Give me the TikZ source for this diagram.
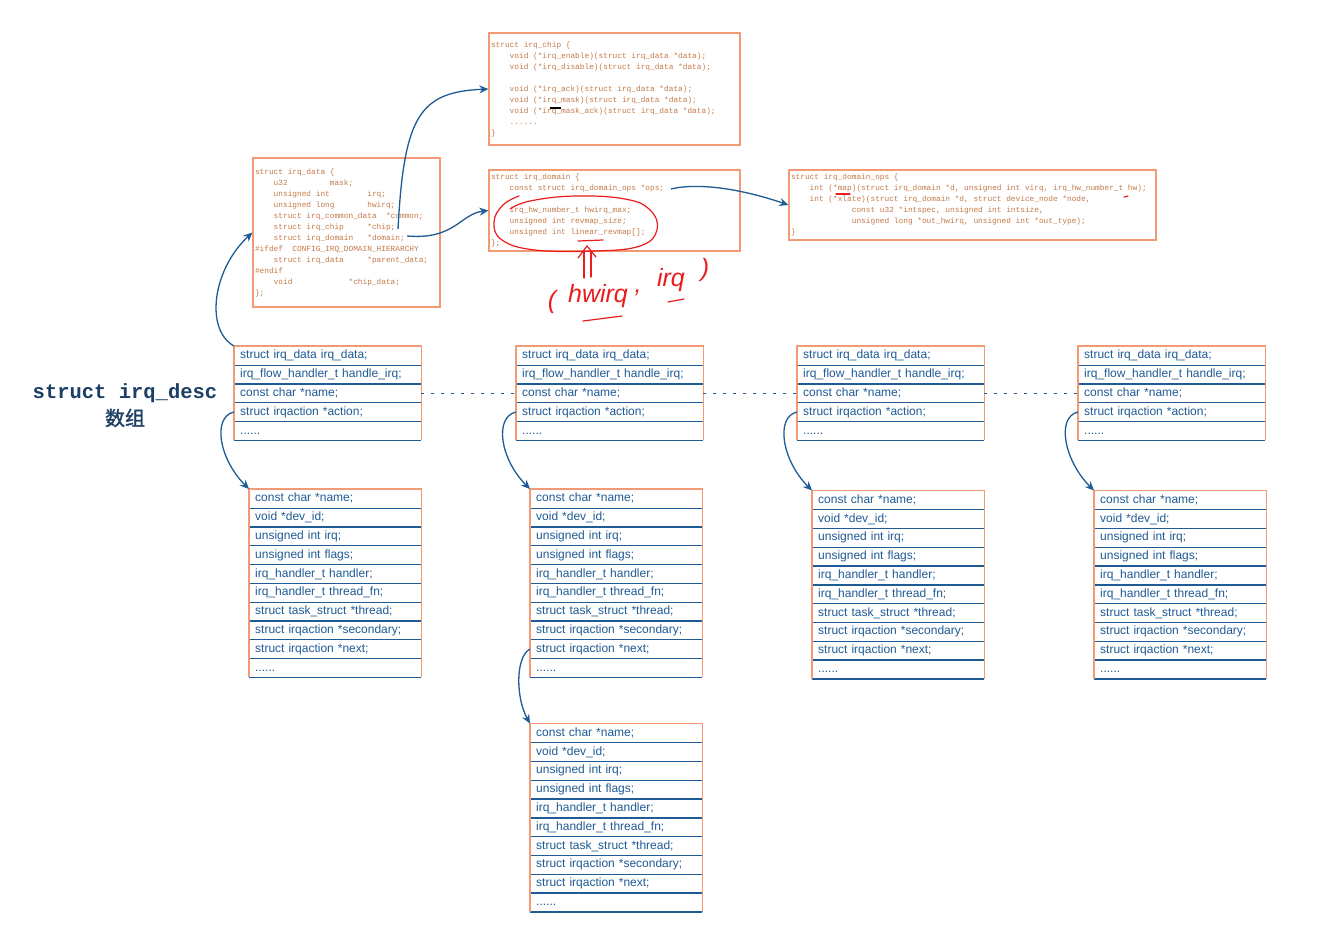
\documentclass[tikz,border=0pt]{standalone}
\usepackage{fontspec}
\setmainfont{Liberation Sans}
\setmonofont{Liberation Mono}
\newfontfamily\cjk[FakeBold=1.5]{Noto Sans CJK SC}
\usepackage{xcolor}
\usetikzlibrary{positioning, calc, arrows.meta}

\definecolor{boxorange}{HTML}{F29A76}
\definecolor{lineblue}{HTML}{1F5B94}
\definecolor{codebrown}{HTML}{C47A48}
\definecolor{titleblue}{HTML}{1D3F66}
\definecolor{inkred}{HTML}{EA1C1C}

\newcommand{\sixdots}{......}
% one monospace cell per ~ in the code boxes
\newcommand{\monospaces}{\def~{\leavevmode\hbox to 4.68pt{\hss}}}

\tikzset{
  descrow/.style={anchor=north west, text width=175pt, inner xsep=6pt, inner ysep=0pt,
    minimum height=18.8pt, text height=9pt, text depth=2.5pt, align=left,
    font=\fontsize{12}{12}\selectfont, text=lineblue},
  actrow/.style={descrow, text width=160pt},
  codebox/.style={draw=boxorange, line width=1.2pt, inner xsep=2pt, inner ysep=0pt, align=left,
    font=\fontsize{7.8}{11}\selectfont\ttfamily\monospaces, text=codebrown},
  sepline/.style={lineblue, line width=1.3pt},
  frameline/.style={boxorange, line width=1.3pt},
  ptr/.style={lineblue, line width=1.3pt, -{Stealth[length=9pt,width=8pt]}},
  dotline/.style={lineblue, line width=1pt, dash pattern=on 3pt off 7pt},
  ink/.style={inkred, line width=1.2pt, line cap=round},
  inktext/.style={text=inkred, inner sep=0pt, font=\itshape\fontsize{25}{25}\selectfont},
  desctitle/.style={text=titleblue, inner sep=0pt},
}

\begin{document}
\begin{tikzpicture}[x=1pt, y=-1pt]
    \useasboundingbox (0,0) rectangle (1319,951);
    \fill[white] (0,0) rectangle (1319,951);

    %title
    \node[desctitle, font=\fontsize{20.5}{20.5}\selectfont\ttfamily\bfseries] (titlea) at (125,393) {struct irq\_desc};
    \node[desctitle, font=\cjk\fontsize{20}{20}\selectfont] (titleb) at (125,418) {数组};

    %irq_desc tables
    \foreach \col/\x/\y in {1/234/346, 2/516/346, 3/797/346, 4/1078/346}
        \foreach \txt [count=\i] in {{struct irq\_data irq\_data;}, {irq\_flow\_handler\_t handle\_irq;},
                {const char *name;}, {struct irqaction *action;}, {\sixdots}}
            \node[descrow] (d\col-\i) at ({\x},{\y+18.8*(\i-1)}) {\txt};

    %irqaction tables
    \foreach \tab/\x/\y in {a1/249/489, a2/530/489, a3/812/490.5, a4/1094/490.5, b2/530/723.5}
        \foreach \txt [count=\i] in {{const char *name;}, {void *dev\_id;}, {unsigned int irq;},
                {unsigned int flags;}, {irq\_handler\_t handler;}, {irq\_handler\_t thread\_fn;},
                {struct task\_struct *thread;}, {struct irqaction *secondary;},
                {struct irqaction *next;}, {\sixdots}}
            \node[actrow] (\tab-\i) at ({\x},{\y+18.8*(\i-1)}) {\txt};

    %frames
    \foreach \n/\k in {d1/5, d2/5, d3/5, d4/5, a1/10, a2/10, a3/10, a4/10, b2/10}{
        \foreach \i in {1,...,\k}
            \draw[sepline] (\n-\i.south west) -- (\n-\i.south east);
        \draw[frameline] (\n-\k.south west) -- (\n-1.north west) -- (\n-1.north east) -- (\n-\k.south east);
    }

    %code boxes
    \node[codebox, text width=247pt, minimum height=112pt] (irqchip) at (614.5,89) {struct~irq\_chip~\{\\
~~~~void~(*irq\_enable)(struct~irq\_data~*data);\\
~~~~void~(*irq\_disable)(struct~irq\_data~*data);\\
\mbox{}\\
~~~~void~(*irq\_ack)(struct~irq\_data~*data);\\
~~~~void~(*irq\_mask)(struct~irq\_data~*data);\\
~~~~void~(*irq\_mask\_ack)(struct~irq\_data~*data);\\
~~~~\sixdots\\
\}};

    \node[codebox, text width=183pt, minimum height=149pt] (irqdata) at (346.5,232.5) {struct~irq\_data~\{\\
~~~~u32~~~~~~~~~mask;\\
~~~~unsigned~int~~~~~~~~irq;\\
~~~~unsigned~long~~~~~~~hwirq;\\
~~~~struct~irq\_common\_data~~*common;\\
~~~~struct~irq\_chip~~~~~*chip;\\
~~~~struct~irq\_domain~~~*domain;\\
\#ifdef~~CONFIG\_IRQ\_DOMAIN\_HIERARCHY\\
~~~~struct~irq\_data~~~~~*parent\_data;\\
\#endif\\
~~~~void~~~~~~~~~~~~*chip\_data;\\
\};};

    \node[codebox, text width=247pt, minimum height=81pt] (irqdomain) at (614.5,210.5) {struct~irq\_domain~\{\\
~~~~const~struct~irq\_domain\_ops~*ops;\\
\mbox{}\\
~~~~irq\_hw\_number\_t~hwirq\_max;\\
~~~~unsigned~int~revmap\_size;\\
~~~~unsigned~int~linear\_revmap[];\\
\};};

    \node[codebox, text width=363pt, minimum height=70pt] (domainops) at (972.5,205) {struct~irq\_domain\_ops~\{\\
~~~~int~(*map)(struct~irq\_domain~*d,~unsigned~int~virq,~irq\_hw\_number\_t~hw);\\
~~~~int~(*xlate)(struct~irq\_domain~*d,~struct~device\_node~*node,\\
~~~~~~~~~~~~~const~u32~*intspec,~unsigned~int~intsize,\\
~~~~~~~~~~~~~unsigned~long~*out\_hwirq,~unsigned~int~*out\_type);\\
\}};

    %pointer ends
    \coordinate (chipptr) at (398,229);
    \coordinate (domainptr) at (407,236);
    \coordinate (opsptr) at (671,189);

    %arrows
    \draw[ptr] (d1-1.north west) .. controls (205,330) and (212,270) .. (irqdata.west);
    \draw[ptr] (chipptr) .. controls (404,115) and (420,92) .. (irqchip.west);
    \draw[ptr] (domainptr) .. controls (455,240) and (460,214) .. (irqdomain.west);
    \draw[ptr] (opsptr) .. controls (700,182) and (745,190) .. (domainops.west);

    \foreach \c in {1,...,4}
        \draw[ptr] (d\c-4.west) .. controls +(-22,5) and +(-30,-30) .. (a\c-1.north west);
    \draw[ptr] (a2-9.west) .. controls +(-15,8) and +(-14,-25) .. (b2-1.north west);

    %dotted lines
    \draw[dotline] (d1-3.east) -- (d2-3.west);
    \draw[dotline] (d2-3.east) -- (d3-3.west);
    \draw[dotline] (d3-3.east) -- (d4-3.west);

    %red notes
    \draw[ink] plot[smooth, tension=0.7] coordinates {(519,196) (503,205) (494,222) (502,240)
        (535,250) (595,251) (640,246) (657,230) (650,210) (625,199) (575,196) (530,201) (510,209)};
    \draw[ink] (578,241) -- (603,240);
    \draw[ink] (584,278) -- (584,251);
    \draw[ink] (591,277) -- (591,251);
    \draw[ink] (578,258) -- (587,246) -- (596,257);
    \node[inktext] (noteopen) at (552,302) {(};
    \node[inktext] (notehw) at (598,296) {hwirq};
    \node[inktext] (notecomma) at (638,293) {,};
    \node[inktext] (noteirq) at (671,280) {irq};
    \node[inktext] (noteclose) at (705,270) {)};
    \draw[ink] (583,321) -- (622,316);
    \draw[ink] (668,302) -- (684,299);
    \draw[ink] (836,194) -- (850,194);
    \draw[ink] (1124,197) -- (1128,196);
    \draw[black, line width=1.2pt] (550,108) -- (561,108);

\end{tikzpicture}
\end{document}
